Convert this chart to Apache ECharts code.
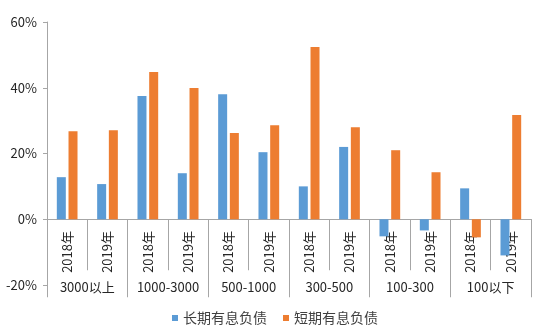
<!DOCTYPE html>
<html><head><meta charset="utf-8">
<script src="https://cdn.jsdelivr.net/npm/echarts@6/dist/echarts.min.js"></script>
<style>html,body{margin:0;padding:0;background:#fff}#c{width:538px;height:331px}</style>
</head><body><div id="c"></div>
<script>
const years = ['2018年','2019年','2018年','2019年','2018年','2019年','2018年','2019年','2018年','2019年','2018年','2019年'];
const groups = ['3000以上','1000-3000','500-1000','300-500','100-300','100以下'];
const longDebt = [12.8, 10.7, 37.5, 14.0, 38.0, 20.4, 10.0, 22.0, -5.2, -3.4, 9.4, -11.0];
const shortDebt = [26.8, 27.1, 44.8, 39.9, 26.2, 28.6, 52.4, 28.0, 21.0, 14.3, -5.5, 31.7];
const yTicks = {min: -20, max: 60, interval: 20};

const font = '"Noto Sans CJK SC", "Liberation Sans", sans-serif';
const axisGray = '#a6a6a6';
const chart = echarts.init(document.getElementById('c'), null, {renderer: 'canvas'});
chart.setOption({
  animation: false,
  textStyle: {fontFamily: font},
  grid: {left: 47, right: 7, top: 22, bottom: 46, outerBoundsMode: 'none', containLabel: false},
  legend: {
    bottom: 1, left: 167, itemWidth: 6, itemHeight: 6, itemGap: 16,
    icon: 'rect',
    textStyle: {fontSize: 14, color: '#404040', fontFamily: font},
    data: ['长期有息负债', '短期有息负债']
  },
  xAxis: [{
    type: 'category', data: years,
    axisLine: {onZero: true, onZeroAxisIndex: 0, lineStyle: {color: axisGray}},
    axisTick: {show: true, alignWithLabel: false, interval: 0, length: 51, lineStyle: {color: axisGray}},
    axisLabel: {rotate: 90, interval: 0, margin: -54, fontSize: 13, color: '#262626', fontFamily: font, hideOverlap: false}
  }, {
    type: 'category', data: groups, position: 'bottom',
    axisLine: {onZero: true, onZeroAxisIndex: 1, show: false},
    axisTick: {show: true, interval: 0, length: 78, lineStyle: {color: axisGray}},
    axisLabel: {interval: 0, margin: -4, fontSize: 13, color: '#262626', fontFamily: font, hideOverlap: false}
  }],
  yAxis: [{
    type: 'value', min: yTicks.min, max: yTicks.max, interval: yTicks.interval,
    axisLine: {show: true, lineStyle: {color: axisGray}},
    axisTick: {show: true, length: 4, lineStyle: {color: axisGray}},
    splitLine: {show: false},
    axisLabel: {formatter: '{value}%', margin: 10, fontSize: 13, color: '#262626', fontFamily: font}
  }, {
    type: 'value', min: yTicks.min, max: yTicks.max, interval: yTicks.interval,
    position: 'left', show: false, splitLine: {show: false}
  }],
  series: [{
    name: '长期有息负债', type: 'bar', data: longDebt, xAxisIndex: 0, yAxisIndex: 0,
    barWidth: 9, barGap: '30%', itemStyle: {color: '#5B9BD5'}
  }, {
    name: '短期有息负债', type: 'bar', data: shortDebt, xAxisIndex: 0, yAxisIndex: 0,
    barWidth: 9, barGap: '30%', itemStyle: {color: '#ED7D31'}
  }]
});
</script></body></html>
